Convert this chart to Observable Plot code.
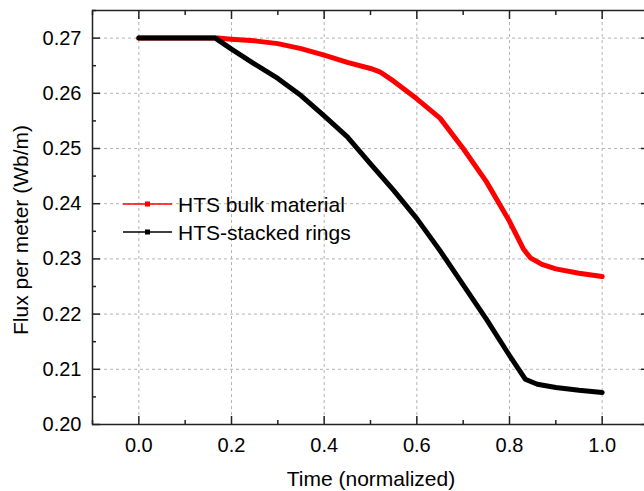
<!DOCTYPE html>
<html><head><meta charset="utf-8">
<script src="https://cdn.jsdelivr.net/npm/d3@7"></script>
<script src="https://cdn.jsdelivr.net/npm/@observablehq/plot@0.6"></script>
<style>
html,body{margin:0;padding:0;overflow:hidden;background:#fff;}
#wrap{position:relative;width:644px;height:491px;overflow:hidden;font-family:"Liberation Sans",Arial,sans-serif;}
#wrap svg{max-width:none !important;display:block;}
#wrap svg.ov{position:absolute;left:0;top:0;}
</style></head><body><div id="wrap"></div>
<script>
// Series: HTS bulk material (red)
const bulkTime = [0, 0.17, 0.2, 0.25, 0.3, 0.35, 0.4, 0.45, 0.5, 0.52, 0.55, 0.6, 0.65, 0.7, 0.75, 0.8, 0.83, 0.845, 0.87, 0.9, 0.95, 1.0];
const bulkFlux = [0.27, 0.27, 0.2698, 0.2695, 0.2690, 0.2681, 0.2669, 0.2656, 0.2645, 0.2639, 0.2622, 0.2590, 0.2555, 0.2500, 0.2440, 0.2368, 0.2318, 0.2302, 0.2290, 0.2282, 0.2274, 0.2268];
// Series: HTS-stacked rings (black)
const ringsTime = [0, 0.165, 0.2, 0.25, 0.3, 0.35, 0.4, 0.45, 0.5, 0.55, 0.6, 0.65, 0.7, 0.75, 0.8, 0.834, 0.86, 0.9, 0.95, 1.0];
const ringsFlux = [0.27, 0.27, 0.2680, 0.2653, 0.2627, 0.2596, 0.2559, 0.2521, 0.2472, 0.2424, 0.2373, 0.2315, 0.2253, 0.2191, 0.2125, 0.2082, 0.2073, 0.2067, 0.2062, 0.2058];

const seriesNames = ["HTS bulk material", "HTS-stacked rings"];
const seriesColors = ["#ff0000", "#000000"];

const xMajor = [0, 0.2, 0.4, 0.6, 0.8, 1.0];
const xMinor = [-0.1, 0.1, 0.3, 0.5, 0.7, 0.9, 1.1];
const yMajor = [0.20, 0.21, 0.22, 0.23, 0.24, 0.25, 0.26, 0.27];
const yMinor = [0.205, 0.215, 0.225, 0.235, 0.245, 0.255, 0.265, 0.275];

const xTitle = "Time (normalized)";
const yTitle = "Flux per meter (Wb/m)";

const bulk = bulkTime.map((t, i) => ({t, f: bulkFlux[i]}));
const rings = ringsTime.map((t, i) => ({t, f: ringsFlux[i]}));

const axisColor = "#222";
const tickFont = 20;

const chart = Plot.plot({
  width: 650, height: 491,
  marginLeft: 92, marginRight: 2, marginTop: 10, marginBottom: 67,
  style: {fontFamily: '"Liberation Sans", Arial, sans-serif', fontSize: tickFont + "px", color: "#000", background: "#fff", overflow: "visible", maxWidth: "none"},
  x: {domain: [-0.1, 1.1]},
  y: {domain: [0.20, 0.275]},
  marks: [
    Plot.gridX(xMajor, {stroke: "#b4b4b4", strokeOpacity: 1, strokeDasharray: "3,3", strokeWidth: 1}),
    Plot.gridY(yMajor, {stroke: "#b4b4b4", strokeOpacity: 1, strokeDasharray: "3,3", strokeWidth: 1}),
    // inward major ticks on all four sides
    Plot.axisX({anchor: "bottom", ticks: xMajor, tickSize: -8, tickFormat: () => "", stroke: axisColor, strokeWidth: 1.5, label: null}),
    Plot.axisX({anchor: "top", ticks: xMajor, tickSize: -8, tickFormat: () => "", stroke: axisColor, strokeWidth: 1.5, label: null}),
    Plot.axisY({anchor: "left", ticks: yMajor, tickSize: -8, tickFormat: () => "", stroke: axisColor, strokeWidth: 1.5, label: null}),
    Plot.axisY({anchor: "right", ticks: yMajor, tickSize: -8, tickFormat: () => "", stroke: axisColor, strokeWidth: 1.5, label: null}),
    // inward minor ticks
    Plot.axisX({anchor: "bottom", ticks: xMinor, tickSize: -4, tickFormat: () => "", stroke: axisColor, strokeWidth: 1.5, label: null}),
    Plot.axisX({anchor: "top", ticks: xMinor, tickSize: -4, tickFormat: () => "", stroke: axisColor, strokeWidth: 1.5, label: null}),
    Plot.axisY({anchor: "left", ticks: yMinor, tickSize: -4, tickFormat: () => "", stroke: axisColor, strokeWidth: 1.5, label: null}),
    Plot.axisY({anchor: "right", ticks: yMinor, tickSize: -4, tickFormat: () => "", stroke: axisColor, strokeWidth: 1.5, label: null}),
    // tick labels
    Plot.axisX({anchor: "bottom", ticks: xMajor, tickSize: 0, tickPadding: 13, tickFormat: d3.format(".1f"), fill: "#000", label: null, fontSize: tickFont}),
    Plot.axisY({anchor: "left", ticks: yMajor, tickSize: 0, tickPadding: 11, tickFormat: d3.format(".2f"), fill: "#000", label: null, fontSize: tickFont}),
    Plot.frame({stroke: axisColor, strokeWidth: 1.5}),
    Plot.line(bulk, {x: "t", y: "f", stroke: seriesColors[0], strokeWidth: 5, strokeLinejoin: "round"}),
    Plot.line(rings, {x: "t", y: "f", stroke: seriesColors[1], strokeWidth: 5, strokeLinejoin: "round"})
  ]
});
const wrap = document.getElementById("wrap");
wrap.appendChild(chart);

// Overlay: legend and axis titles
const ov = d3.select(wrap).append("svg").attr("class", "ov").attr("width", 644).attr("height", 491)
  .style("font-family", '"Liberation Sans", Arial, sans-serif');
const legY = [204, 232];
seriesNames.forEach((name, i) => {
  ov.append("line").attr("x1", 123).attr("x2", 172).attr("y1", legY[i]).attr("y2", legY[i])
    .attr("stroke", seriesColors[i]).attr("stroke-width", 1.5);
  ov.append("rect").attr("x", 145).attr("y", legY[i] - 2.5).attr("width", 5).attr("height", 5).attr("fill", seriesColors[i]);
  ov.append("text").attr("x", 178).attr("y", legY[i] + 7.5).attr("font-size", 21).attr("fill", "#000").text(name);
});
ov.append("text").attr("x", 371).attr("y", 486).attr("text-anchor", "middle").attr("font-size", 21).attr("fill", "#000").text(xTitle);
ov.append("text").attr("transform", "translate(28,230) rotate(-90)").attr("text-anchor", "middle").attr("font-size", 21).attr("fill", "#000").text(yTitle);
</script>
</body></html>
